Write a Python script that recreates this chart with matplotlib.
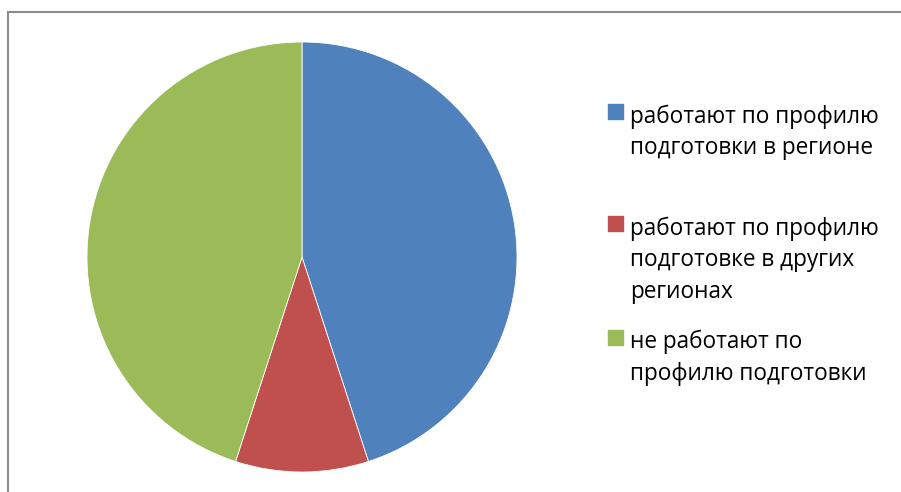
import matplotlib.pyplot as plt
from matplotlib.patches import Rectangle

labels = [
    'работают по профилю\nподготовки в регионе',
    'работают по профилю\nподготовке в других\nрегионах',
    'не работают по\nпрофилю подготовки',
]
values = [45, 10, 45]
colors = ['#4F81BD', '#C0504D', '#9BBB59']

W, H = 901, 492
fig = plt.figure(figsize=(W / 100, H / 100), dpi=100)

# chart frame (runs off the right and bottom edge)
fig.patches.append(Rectangle((8 / W, -0.1), 1.2, 1 - 12 / H + 0.1,
                             transform=fig.transFigure, fill=False,
                             edgecolor='#8c8c8c', linewidth=1.5))

ax = fig.add_axes([87 / W, 1 - 472 / H, 430 / W, 430 / H])
ax.pie(values, colors=colors, startangle=90, counterclock=False,
       wedgeprops=dict(edgecolor='white', linewidth=0.6))
ax.set_xlim(-1, 1)
ax.set_ylim(-1, 1)
ax.set_aspect('equal')

# legend, placed by hand like the original
baselines = [123, 235, 348.5]
step = 31.5
for lab, col, y0 in zip(labels, colors, baselines):
    fig.patches.append(Rectangle((608 / W, 1 - (y0 - 4) / H), 15 / W, 15 / H,
                                 transform=fig.transFigure, color=col))
    for i, line in enumerate(lab.split('\n')):
        fig.text(630 / W, 1 - (y0 + i * step) / H, line, fontsize=16.3,
                 family='Open Sans', va='baseline', ha='left', color='black')

fig.savefig('out.png', dpi=100)
